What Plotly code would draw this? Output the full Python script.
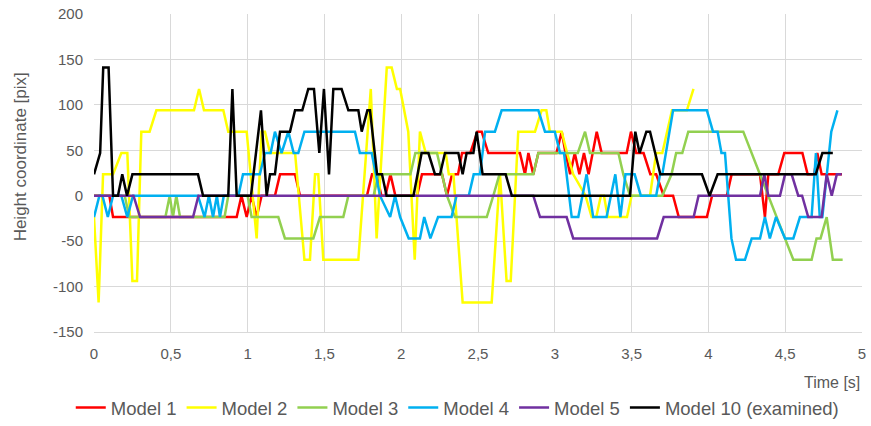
import plotly.graph_objects as go

# ---------------- data (time [s], height [pix]) ----------------
m1_t = [0, 0.1, 0.124, 0.929, 0.96, 0.994, 1.026, 1.059, 1.091, 1.178, 1.211, 1.309, 1.341, 1.777, 1.81, 1.84,
        1.871, 1.897, 1.93, 1.962, 2.103, 2.135, 2.266, 2.298, 2.331, 2.37, 2.396, 2.45, 2.496, 2.524, 2.567,
        2.773, 2.806, 2.828, 2.86, 2.893, 3.011, 3.045, 3.07, 3.1, 3.13, 3.16, 3.19, 3.22, 3.273, 3.305, 3.468,
        3.496, 3.53, 3.578, 3.622, 3.66, 3.709, 3.77, 3.807, 3.99, 4.024, 4.12, 4.151, 4.336, 4.368, 4.39, 4.455,
        4.494, 4.612, 4.646, 4.689, 4.709, 4.737, 4.87]
m1_v = [0, 0, -23.5, -23.5, 0, -23.5, 0, -23.5, 0, 0, 23.5, 23.5, 0, 0, 23.5, 23.5,
        0, 0, 23.5, 0, 0, 23.5, 23.5, 0, 23.5, 23.5, 47, 47, 70.5, 70.5, 47,
        47, 23.5, 47, 23.5, 47, 47, 70.5, 47, 23.5, 47, 23.5, 47, 23.5, 70.5, 47, 47,
        70.5, 47, 47, 23.5, 23.5, 0, 0, -23.5, -23.5, 0, 0, 23.5, 23.5, -23.5, 23.5, 23.5,
        47, 47, 23.5, 23.5, 47, 23.5, 23.5]

m2_t = [0, 0.03, 0.059, 0.124, 0.178, 0.217, 0.25, 0.28, 0.308, 0.362, 0.406, 0.651, 0.684, 0.716, 0.842,
        0.874, 0.994, 1.059, 1.091, 1.113, 1.146, 1.309, 1.37, 1.406, 1.439, 1.46, 1.493, 1.721, 1.802, 1.84,
        1.906, 1.938, 1.972, 1.993, 2.046, 2.088, 2.122, 2.16, 2.29, 2.31, 2.34, 2.40, 2.589, 2.643, 2.686,
        2.713, 2.762, 2.871, 2.914, 2.945, 2.968, 3.045, 3.08, 3.12, 3.2, 3.24, 3.27, 3.3, 3.32, 3.345, 3.47,
        3.5, 3.62, 3.66, 3.70, 3.763, 3.86, 3.903]
m2_v = [-23.5, -117.5, 23.5, 23.5, 47, 47, -94, -94, 70.5, 70.5, 94, 94, 117.5, 94, 94,
        70.5, 70.5, -47, 70.5, 70.5, 47, 47, -70.5, -70.5, 23.5, 23.5, -70.5, -70.5, 117.5, -47,
        141, 141, 117.5, 117.5, 70.5, -70.5, 70.5, 47, 47, 23.5, 23.5, -117.5, -117.5, 23.5, -94,
        -94, 70.5, 70.5, 94, 94, 70.5, 70.5, 47, 23.5, 0, -23.5, -23.5, 0, 0, -23.5, -23.5,
        0, 0, 47, 47, 94, 94, 117.5]

m3_t = [0, 0.2, 0.23, 0.465, 0.493, 0.514, 0.536, 0.56, 0.85, 0.874, 1.0, 1.026, 1.2, 1.243, 1.428, 1.471,
        1.623, 1.656, 1.82, 1.853, 2.06, 2.092, 2.233, 2.266, 2.298, 2.35, 2.557, 2.6, 2.64, 2.86, 2.893,
        3.15, 3.197, 3.229, 3.414, 3.446, 3.49, 3.70, 3.76, 3.79, 3.83, 3.869, 4.227, 4.553, 4.672, 4.704,
        4.73, 4.77, 4.81, 4.874]
m3_v = [0, 0, -23.5, -23.5, 0, -23.5, 0, -23.5, -23.5, 0, 0, -23.5, -23.5, -47, -47, -23.5,
        -23.5, 0, 0, 23.5, 23.5, 47, 47, 23.5, 0, -23.5, -23.5, 0, 23.5, 23.5, 47,
        47, 70.5, 47, 47, 23.5, 0, 0, 23.5, 47, 47, 70.5, 70.5, -70.5, -70.5, -47,
        -47, -23.5, -70.5, -70.5]

m4_t = [0, 0.035, 0.055, 0.09, 0.124, 0.178, 0.217, 0.254, 0.677, 0.72, 0.748, 0.775, 0.80, 0.82, 0.845,
        0.94, 0.97, 1.08, 1.113, 1.15, 1.178, 1.221, 1.265, 1.30, 1.33, 1.37, 1.699, 1.731, 1.808, 1.862,
        1.928, 1.96, 1.993, 2.049, 2.122, 2.15, 2.19, 2.24, 2.328, 2.36, 2.44, 2.472, 2.513, 2.546, 2.61,
        2.654, 2.893, 2.936, 3.0, 3.034, 3.06, 3.11, 3.153, 3.207, 3.25, 3.337, 3.394, 3.427, 3.46, 3.52,
        3.56, 3.66, 3.685, 3.70, 3.77, 3.99, 4.03, 4.06, 4.085, 4.108, 4.15, 4.18, 4.238, 4.282, 4.336,
        4.368, 4.40, 4.44, 4.499, 4.553, 4.596, 4.672, 4.70, 4.725, 4.742, 4.77, 4.80, 4.84]
m4_v = [-23.5, 0, 0, -23.5, 0, 0, -23.5, 0, 0, -23.5, 0, -23.5, 0, -23.5, 0,
        0, 23.5, 23.5, 47, 47, 70.5, 47, 70.5, 47, 47, 70.5, 70.5, 47, 47, 0,
        -23.5, 0, -23.5, -47, -47, -23.5, -47, -23.5, -23.5, 0, 0, 23.5, 23.5, 70.5, 70.5,
        94, 94, 70.5, 70.5, 47, 47, -23.5, -23.5, 23.5, -23.5, -23.5, 23.5, -23.5, 23.5, 23.5,
        0, 0, 23.5, 23.5, 94, 94, 70.5, 70.5, 47, 47, -47, -70.5, -70.5, -47, -47,
        -23.5, -47, -23.5, -47, -47, -23.5, -23.5, 47, -23.5, -23.5, 23.5, 70.5, 94]

m5_t = [0, 0.257, 0.30, 0.645, 0.68, 2.86, 2.904, 3.077, 3.12, 3.666, 3.709, 3.904, 3.936, 4.336, 4.364,
        4.39, 4.466, 4.499, 4.542, 4.585, 4.61, 4.65, 4.737, 4.77, 4.803, 4.836, 4.868]
m5_v = [0, 0, -23.5, -23.5, 0, 0, -23.5, -23.5, -47, -47, -23.5, -23.5, 0, 0, 23.5,
        0, 0, 23.5, 23.5, 0, 0, -23.5, -23.5, 23.5, 0, 23.5, 23.5]

m10_t = [0, 0.04, 0.06, 0.095, 0.124, 0.156, 0.184, 0.215, 0.25, 0.677, 0.71, 0.874, 0.901, 0.929, 1.022,
         1.087, 1.124, 1.146, 1.178, 1.211, 1.276, 1.309, 1.356, 1.395, 1.432, 1.467, 1.497, 1.530, 1.558,
         1.612, 1.656, 1.721, 1.743, 1.780, 1.797, 1.843, 1.875, 1.905, 2.08, 2.133, 2.177, 2.22, 2.253,
         2.285, 2.372, 2.40, 2.426, 2.47, 2.491, 2.53, 2.68, 2.72, 3.49, 3.524, 3.552, 3.596, 3.62, 3.687,
         3.958, 4.008, 4.06, 4.699, 4.742, 4.81]
m10_v = [23.5, 47, 141, 141, 0, 0, 23.5, 0, 23.5, 23.5, 0, 0, 117.5, 0, 0,
         94, 0, 23.5, 23.5, 70.5, 70.5, 94, 94, 117.5, 117.5, 47, 117.5, 23.5, 117.5,
         117.5, 94, 94, 70.5, 94, 94, 23.5, 23.5, 0, 0, 47, 47, 23.5, 23.5,
         47, 47, 23.5, 47, 47, 70.5, 23.5, 23.5, 0, 0, 70.5, 47, 70.5, 70.5, 23.5,
         23.5, 0, 23.5, 23.5, 47, 47]

names = ["Model 1", "Model 2", "Model 3", "Model 4", "Model 5", "Model 10 (examined)"]
colors = ["#FF0000", "#FFFF00", "#92D050", "#00B0F0", "#7030A0", "#000000"]
series = [(m1_t, m1_v), (m2_t, m2_v), (m3_t, m3_v), (m4_t, m4_v), (m5_t, m5_v), (m10_t, m10_v)]

y_ticks = [-150, -100, -50, 0, 50, 100, 150, 200]
y_labels = ["-150", "-100", "-50", "0", "50", "100", "150", "200"]
x_ticks = [0, 0.5, 1, 1.5, 2, 2.5, 3, 3.5, 4, 4.5, 5]
x_labels = ["0", "0,5", "1", "1,5", "2", "2,5", "3", "3,5", "4", "4,5", "5"]

FONT = "Liberation Sans, Arial, sans-serif"
TXT = "#595959"
GRID = "#D9D9D9"

fig = go.Figure()
for (t, v), n, c in zip(series, names, colors):
    fig.add_trace(go.Scatter(x=t, y=v, name=n, mode="lines",
                             line=dict(color=c, width=2.5, shape="linear")))

fig.update_layout(
    width=871, height=426,
    margin=dict(l=94, r=9, t=14, b=94, autoexpand=False),
    paper_bgcolor="white", plot_bgcolor="white",
    font=dict(family=FONT, color=TXT, size=15),
    showlegend=True,
    legend=dict(orientation="h", x=0.473, xanchor="center", y=-0.239, yanchor="middle",
                font=dict(size=18.5, color=TXT), itemwidth=30, tracegroupgap=0),
    xaxis=dict(range=[0, 5], tickvals=x_ticks, ticktext=x_labels, showgrid=True, gridcolor=GRID,
               gridwidth=1, zeroline=False, showline=True, linecolor=GRID, linewidth=1,
               tickfont=dict(size=15, color=TXT), ticks="", ticklabelstandoff=8),
    yaxis=dict(range=[-150, 200], tickvals=y_ticks, ticktext=y_labels, showgrid=True, gridcolor=GRID,
               gridwidth=1, zeroline=False, showline=False, tickfont=dict(size=15, color=TXT), ticks="",
               ticklabelstandoff=10),
    annotations=[
        dict(text="Time [s]", xref="paper", yref="paper", x=1.0, y=-0.16, xanchor="right",
             yanchor="middle", showarrow=False, font=dict(size=16, color=TXT)),
        dict(text="Height coordinate [pix]", xref="paper", yref="paper", x=-0.096, y=0.55,
             xanchor="center", yanchor="middle", textangle=-90, showarrow=False,
             font=dict(size=17, color=TXT)),
    ],
)

fig.write_html("out.html")
